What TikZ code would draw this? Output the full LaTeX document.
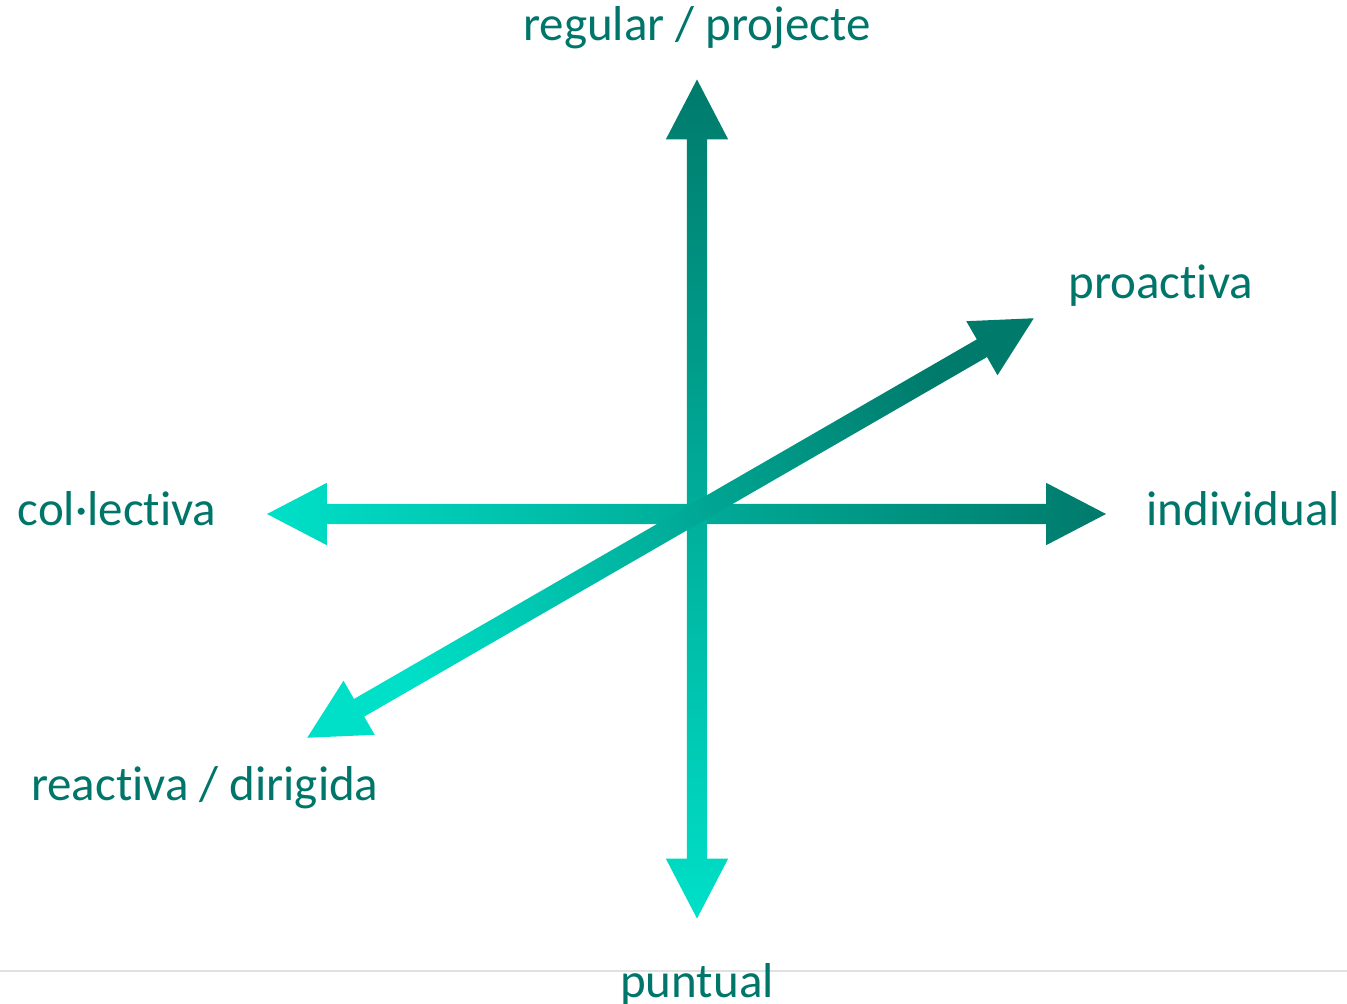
\documentclass[tikz,border=0pt]{standalone}
\usepackage{fontspec}
\setmainfont{Carlito}[Ligatures=NoCommon]
\usetikzlibrary{positioning,shapes.arrows}
\definecolor{tealdark}{HTML}{007A6B}
\definecolor{teallight}{HTML}{00E0C8}
\definecolor{labelteal}{HTML}{00766A}
\tikzset{
  axisarrow/.style={double arrow, draw=none, inner xsep=0pt, inner ysep=10pt,
    minimum height=839pt,
    double arrow head extend=21pt, double arrow tip angle=55,
    left color=teallight, right color=tealdark},
  axislabel/.style={text=labelteal, inner sep=0pt,
    font=\fontsize{49}{58}\selectfont},
}
\begin{document}
\begin{tikzpicture}[x=1pt,y=-1pt]
\useasboundingbox (0,0) rectangle (1347,1004);
\draw[line width=2pt, draw=black!12] (0,971) -- (1347,971);
% the three axes
\node[axisarrow](haxis) at (686.5,514){};
\node[axisarrow, rotate=90, shading angle=180](vaxis) at (697,499){};
\node[axisarrow, rotate=30, shading angle=120](daxis) at (670.5,528){};
% labels at the ends
\node[axislabel, above=30pt of vaxis.east](regular){regular / projecte};
\node[axislabel, below=44pt of vaxis.west](puntual){puntual};
\node[axislabel, right=40pt of haxis.east, yshift=5pt](individual){individual};
\node[axislabel, left=50pt of haxis.west, yshift=5pt](collectiva){col·lectiva};
\node[axislabel, above right=11pt and 34pt of daxis.east](proactiva){proactiva};
\node[axislabel, below=28pt of daxis.west, xshift=-102pt](reactiva){reactiva / dirigida};
\end{tikzpicture}
\end{document}
